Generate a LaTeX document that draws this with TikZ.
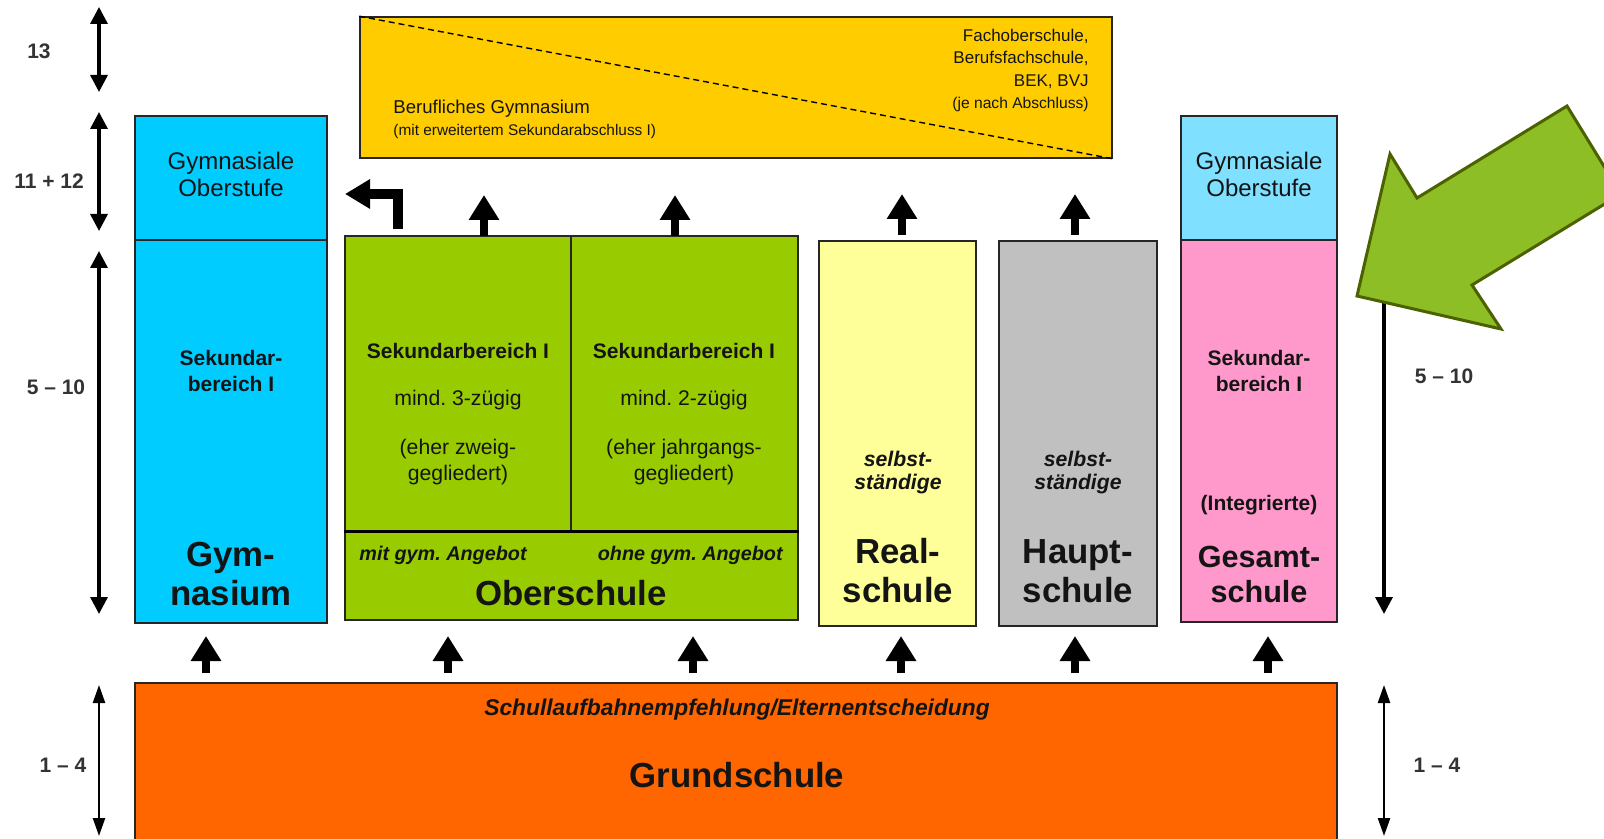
\documentclass[tikz,border=0pt]{standalone}
\usepackage{fontspec}
\setmainfont{Liberation Sans}
\usetikzlibrary{arrows.meta,fit}
\definecolor{cyanA}{RGB}{0,204,255}
\definecolor{cyanB}{RGB}{128,224,255}
\definecolor{yellowA}{RGB}{255,204,0}
\definecolor{greenA}{RGB}{153,204,0}
\definecolor{realY}{RGB}{255,255,153}
\definecolor{grayA}{RGB}{192,192,192}
\definecolor{pinkA}{RGB}{255,153,204}
\definecolor{orangeA}{RGB}{255,102,0}
\definecolor{bigG}{RGB}{141,190,38}
\definecolor{bigGB}{RGB}{76,98,0}
\definecolor{lbl}{RGB}{51,51,51}
\definecolor{txt}{RGB}{20,20,20}
\frenchspacing
\begin{document}
\begin{tikzpicture}[x=0.5pt,y=-0.5pt,
  box/.style={draw=black!85, line width=0.8pt, inner sep=0pt},
  blk/.style={line width=4pt, -{Triangle[length=12.5pt,width=14.5pt]}},
  dbl/.style={line width=1.7pt, {Triangle[length=8.5pt,width=8.5pt]}-{Triangle[length=8.5pt,width=8.5pt]}},
  dblthin/.style={line width=1.2pt, {Triangle[length=9pt,width=6pt]}-{Triangle[length=9pt,width=6pt]}},
  lab/.style={text=lbl, font=\fontsize{10.5}{12}\selectfont\bfseries},
  tx/.style={text=txt, anchor=base, inner sep=0pt},
  reg12/.style={tx, font=\fontsize{12}{14}\selectfont},
  reg10/.style={tx, font=\fontsize{10.6}{12}\selectfont},
  bold10/.style={tx, font=\fontsize{10.5}{12}\selectfont\bfseries},
  bi10/.style={tx, font=\fontsize{10.6}{12}\selectfont\bfseries\itshape},
  bi9/.style={tx, font=\fontsize{9.9}{12}\selectfont\bfseries\itshape},
  big/.style={tx, font=\fontsize{17.4}{20}\selectfont\bfseries},
  bigs/.style={tx, font=\fontsize{15.3}{18}\selectfont\bfseries},
]
\useasboundingbox (0,0) rectangle (1604,839);
\clip (0,0) rectangle (1604,839);
\fill[white] (0,0) rectangle (1604,839);

% ---- boxes ----
\node[box, fill=yellowA, fit={(360,17) (1112,158)}] (yb) {};
\draw[densely dashed, line width=0.7pt] (yb.north west) -- (yb.south east);

\node[box, fill=cyanA, fit={(135,116) (327,240)}] (gymO) {};
\node[box, fill=cyanA, fit={(135,240) (327,623)}] (gymS) {};

\node[box, fill=greenA, fit={(345,236) (571,532)}] (obL) {};
\node[box, fill=greenA, fit={(571,236) (798,532)}] (obR) {};
\node[box, fill=greenA, fit={(345,532) (798,620)}] (obB) {};
\draw[line width=1.6pt] (obB.north west) -- (obB.north east);

\node[box, fill=realY, fit={(819,241) (976,626)}] (real) {};
\node[box, fill=grayA, fit={(999,241) (1157,626)}] (haupt) {};

\node[box, fill=cyanB, fit={(1181,116) (1337,240)}] (gesO) {};
\node[box, fill=pinkA, fit={(1181,240) (1337,622)}] (gesS) {};

\node[box, fill=orangeA, fit={(135,683) (1337,860)}] (grund) {};

% ---- yellow box texts ----
\node[tx, anchor=base west, font=\fontsize{9.3}{11}\selectfont] (bg1) at (393,114) {Berufliches Gymnasium};
\node[tx, anchor=base west, font=\fontsize{7.7}{9}\selectfont] (bg2) at (393,136) {(mit erweitertem Sekundarabschluss I)};
\node[tx, anchor=base east, font=\fontsize{8.5}{10}\selectfont] (fo1) at (1089,42) {Fachoberschule,};
\node[tx, anchor=base east, font=\fontsize{8.5}{10}\selectfont] (fo2) at (1089,64) {Berufsfachschule,};
\node[tx, anchor=base east, font=\fontsize{8.5}{10}\selectfont] (fo3) at (1089,87) {BEK, BVJ};
\node[tx, anchor=base east, font=\fontsize{7.8}{9}\selectfont] (fo4) at (1089,109) {(je nach Abschluss)};

% ---- Gymnasium ----
\node[reg12] (g1) at (231,170) {Gymnasiale};
\node[reg12] (g2) at (231,197) {Oberstufe};
\node[bold10] (g3) at (231,365) {Sekundar-};
\node[bold10] (g4) at (231,391) {bereich I};
\node[big] (g5) at (231,566) {Gym-};
\node[big] (g6) at (231,605) {nasium};

% ---- Oberschule ----
\node[bold10] (o1) at (458,358) {Sekundarbereich I};
\node[reg10] (o2) at (458,405) {mind. 3-zügig};
\node[reg10] (o3) at (458,454) {(eher zweig-};
\node[reg10] (o4) at (458,480) {gegliedert)};
\node[bold10] (o5) at (684,358) {Sekundarbereich I};
\node[reg10] (o6) at (684,405) {mind. 2-zügig};
\node[reg10] (o7) at (684,454) {(eher jahrgangs-};
\node[reg10] (o8) at (684,480) {gegliedert)};
\node[bi9, anchor=base west] (o9) at (359,560) {mit gym. Angebot};
\node[bi9, anchor=base east] (o10) at (783,560) {ohne gym. Angebot};
\node[big] (o11) at (571,605) {Oberschule};

% ---- Realschule / Hauptschule ----
\node[bi10] (r1) at (898,466) {selbst-};
\node[bi10] (r2) at (898,489) {ständige};
\node[big] (r3) at (898,563) {Real-};
\node[big] (r4) at (898,602) {schule};
\node[bi10] (h1) at (1078,466) {selbst-};
\node[bi10] (h2) at (1078,489) {ständige};
\node[big] (h3) at (1078,563) {Haupt-};
\node[big] (h4) at (1078,602) {schule};

% ---- Gesamtschule ----
\node[reg12] (s1) at (1259,170) {Gymnasiale};
\node[reg12] (s2) at (1259,197) {Oberstufe};
\node[bold10] (s3) at (1259,365) {Sekundar-};
\node[bold10] (s4) at (1259,391) {bereich I};
\node[bold10] (s5) at (1259,510) {(Integrierte)};
\node[bigs] (s6) at (1259,567) {Gesamt-};
\node[bigs] (s7) at (1259,602) {schule};

% ---- Grundschule ----
\node[tx, font=\fontsize{11.4}{13}\selectfont\bfseries\itshape] (gr1) at (737,715) {Schullaufbahnempfehlung/Elternentscheidung};
\node[big] (gr2) at (737,787) {Grundschule};

% ---- block arrows up (top) ----
\foreach \n/\xx/\ya/\yb in {t1/484/236/195, t2/675/236/195, t3/902/235/194, t4/1075/235/194}{
  \coordinate (\n s) at (\xx,\ya);
  \coordinate (\n e) at (\xx,\yb);
  \draw[blk] (\n s) -- (\n e);
}
% turn arrow
\coordinate (ta) at (398,229);
\coordinate (tb) at (398,194);
\coordinate (tc) at (345,194);
\draw[line width=5pt, line join=miter, -{Triangle[length=12.5pt,width=14pt]}] (ta) -- (tb) -- (tc);

% ---- block arrows up (bottom) ----
\foreach \n/\xx in {b1/206, b2/448, b3/693, b4/901, b5/1075, b6/1268}{
  \coordinate (\n s) at (\xx,673);
  \coordinate (\n e) at (\xx,636);
  \draw[blk] (\n s) -- (\n e);
}

% ---- level arrows ----
\coordinate (l1a) at (99,7);   \coordinate (l1b) at (99,92);
\coordinate (l2a) at (99,112); \coordinate (l2b) at (99,231);
\coordinate (l3a) at (99,251); \coordinate (l3b) at (99,614);
\coordinate (l4a) at (99,685); \coordinate (l4b) at (99,836);
\coordinate (r3a) at (1384,251); \coordinate (r3b) at (1384,614);
\coordinate (r4a) at (1384,685); \coordinate (r4b) at (1384,836);
\draw[dbl] (l1a) -- (l1b);
\draw[dbl] (l2a) -- (l2b);
\draw[dbl] (l3a) -- (l3b);
\draw[dblthin] (l4a) -- (l4b);
\draw[dbl] (r3a) -- (r3b);
\draw[dblthin] (r4a) -- (r4b);

\node[lab] (k1) at (39,51) {13};
\node[lab] (k2) at (49,181) {11 + 12};
\node[lab] (k3) at (56,387) {5 – 10};
\node[lab] (k4) at (63,765) {1 – 4};
\node[lab] (k5) at (1444,376) {5 – 10};
\node[lab] (k6) at (1437,765) {1 – 4};

% ---- big green arrow ----
\draw[fill=bigG, draw=bigGB, line width=1.5pt, line join=miter]
  (1357,296) -- (1390,154) -- (1417,198) -- (1567,106) -- (1621,194)
  -- (1472,285) -- (1501,329) -- cycle;
\end{tikzpicture}
\end{document}
